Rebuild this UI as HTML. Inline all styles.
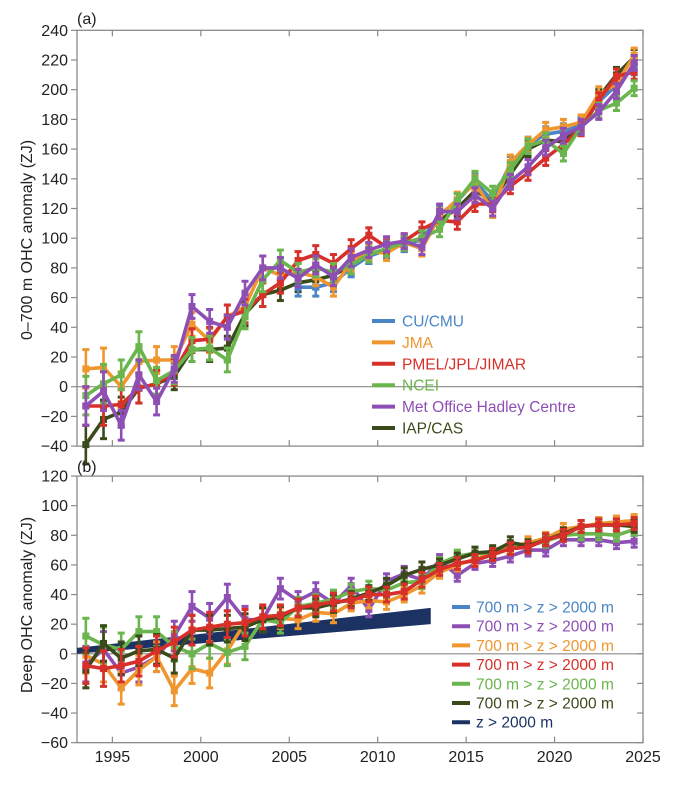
<!DOCTYPE html>
<html><head><meta charset="utf-8"><style>
body{margin:0;background:#fff;}
svg{display:block;font-family:"Liberation Sans",Arial,sans-serif;}
</style></head><body>
<svg id="chart" width="688" height="787" viewBox="0 0 688 787" xmlns="http://www.w3.org/2000/svg"></svg>
<script>
const years = [];
for (let y = 1993; y <= 2024; y++) years.push(y);
// Panel (a) 0-700 m OHC anomaly (ZJ)
const aIAP  = [-39,-22,-17,-1,2,7,25,25,26,49,62,65,70,72,75,82,88,92,96,100,112,120,132,125,143,160,166,165,176,195,210,222];
const aCU   = [null,null,null,null,null,null,null,null,null,null,null,null,67,67,70,80,88,92,96,99,116,125,138,125,150,163,170,172,176,192,203,215];
const aJMA  = [12,13,0,17,18,18,42,31,47,54,80,75,77,74,67,84,91,90,97,93,115,126,137,119,151,163,173,175,178,197,204,223];
const aPMEL = [-13,-13,-12,-1,2,10,31,32,47,51,62,70,85,89,83,93,102,94,98,106,112,111,123,123,135,144,154,163,174,193,209,212];
const aNCEI = [-6,2,8,27,4,11,25,26,18,47,72,85,77,80,77,82,89,93,97,100,106,125,140,130,146,162,166,157,175,186,191,201];
const aMET  = [-13,-3,-26,8,-10,12,54,44,40,63,80,80,73,82,74,87,92,96,98,94,118,118,129,120,138,148,161,169,175,185,199,218];
const aErr  = [13,13,10,10,9,9,8,8,8,8,8,7,6,6,6,6,5,5,5,5,5,5,5,5,5,5,5,5,5,5,5,5];
// Panel (b) deep OHC anomaly (ZJ)
const bCU   = [null,null,null,null,null,null,null,null,null,null,null,null,31,33,35,36,40,40,42,50,57,61,63,67,71,72,77,80,86,87,87,88];
const bMET  = [-7,3,-13,-9,-2,12,32,24,38,23,23,44,36,42,34,46,30,49,54,50,63,53,61,63,66,70,70,77,77,77,75,76];
const bJMA  = [-1,-7,-23,-11,-2,-25,-10,-13,2,21,23,24,23,28,27,34,36,35,40,46,55,60,64,68,72,75,78,84,86,88,89,90];
const bNCEI = [12,6,3,15,15,5,0,7,1,5,23,21,32,34,37,42,44,43,48,49,61,66,68,68,71,73,76,80,81,81,80,84];
const bIAP  = [-11,7,-3,2,3,-3,16,16,17,18,23,25,31,31,34,37,41,46,53,57,60,64,68,69,75,73,77,81,86,87,87,86];
const bPMEL = [-8,-10,-8,-5,2,8,16,18,20,21,25,26,31,33,35,36,40,40,42,50,57,61,63,67,71,72,77,80,86,87,87,88];
const bErr  = [12,12,11,10,10,10,10,10,9,9,8,7,6,6,6,5,5,5,5,5,4,4,4,4,4,4,4,4,4,4,4,4];
const bandYears = [1993, 2013];
const bandLow   = [0, 20];
const bandHigh  = [4, 31];
const xTicks = [1995, 2000, 2005, 2010, 2015, 2020, 2025];
const aTicks = [240,220,200,180,160,140,120,100,80,60,40,20,0,-20,-40];
const bTicks = [120,100,80,60,40,20,0,-20,-40,-60];

const C = {cu:'#4a86c5', jma:'#f0962e', pmel:'#d7302a', ncei:'#6ab54d', met:'#8e4fb5', iap:'#3b4a1a', navy:'#1b3262'};
const svg = document.getElementById('chart');
const NS = 'http://www.w3.org/2000/svg';
function el(tag, attrs, parent){ const e=document.createElementNS(NS,tag); for(const k in attrs) e.setAttribute(k,attrs[k]); (parent||svg).appendChild(e); return e; }

const X0 = 77, X1 = 643;
function xs(yr){ return X0 + (yr-1993)*(X1-X0)/32; }
function yA(v){ return 386.7 - v*1.485; }
function yB(v){ return 653.8 - v*1.481; }

function frame(name, top, bottom, ticks, yf){
  const g = el('g', {});
  
  
  el('rect', {x:X0, y:top, width:X1-X0, height:bottom-top, fill:'none', stroke:'#8a8a8a', 'stroke-width':1.3}, g);
  for (const t of ticks){
    const y = yf(t);
    el('line', {x1:X0-6, x2:X0, y1:y, y2:y, stroke:'#8a8a8a', 'stroke-width':1.2}, g);
    el('line', {x1:X1-6, x2:X1, y1:y, y2:y, stroke:'#8a8a8a', 'stroke-width':1.2}, g);
    const tx = el('text', {x:X0-9, y:y+5.5, 'text-anchor':'end', 'font-size':16, fill:'#222'}, g);
    tx.textContent = (t<0 ? '\u2212'+(-t) : t);
    
    
  }
  for (const t of xTicks){
    const x = xs(t);
    el('line', {x1:x, x2:x, y1:top, y2:top+6, stroke:'#8a8a8a', 'stroke-width':1.2}, g);
    el('line', {x1:x, x2:x, y1:bottom-6, y2:bottom, stroke:'#8a8a8a', 'stroke-width':1.2}, g);
  }
  el('line', {x1:X0, x2:X1, y1:yf(0), y2:yf(0), stroke:'#8a8a8a', 'stroke-width':1.2}, g);
}
frame('panel-a-axes', yA(240), yA(-40), aTicks, yA);
frame('panel-b-axes', yB(120), yB(-60), bTicks, yB);

function series(name, vals, errs, color, yf){
  const g = el('g', {});
  
  
  let d = '';
  vals.forEach((v,i)=>{ if (v===null) return; const x=xs(years[i]+0.5), y=yf(v); d += (d===''?'M':'L')+x.toFixed(1)+' '+y.toFixed(1)+' '; });
  el('path', {d:d, fill:'none', stroke:color, 'stroke-width':3.6, 'stroke-linejoin':'round'}, g);
  vals.forEach((v,i)=>{
    if (v===null) return;
    const x=xs(years[i]+0.5), e=errs[i];
    const y1=yf(v+e), y2=yf(v-e);
    el('line', {x1:x, x2:x, y1:y1, y2:y2, stroke:color, 'stroke-width':2.6}, g);
    el('line', {x1:x-3.5, x2:x+3.5, y1:y1, y2:y1, stroke:color, 'stroke-width':3}, g);
    el('line', {x1:x-3.5, x2:x+3.5, y1:y2, y2:y2, stroke:color, 'stroke-width':3}, g);
    const m = el('rect', {x:x-3.5, y:yf(v)-3.5, width:7, height:7, fill:color}, g);
    
    
  });
}
// panel a
series('iap-cas-a', aIAP, aErr, C.iap, yA);
series('cu-cmu-a', aCU, aErr, C.cu, yA);
series('jma-a', aJMA, aErr, C.jma, yA);
series('pmel-a', aPMEL, aErr, C.pmel, yA);
series('ncei-a', aNCEI, aErr, C.ncei, yA);
series('met-office-a', aMET, aErr, C.met, yA);
// panel b
const band = el('polygon', {points:
  xs(bandYears[0])+','+yB(bandLow[0])+' '+xs(bandYears[1])+','+yB(bandLow[1])+' '+xs(bandYears[1])+','+yB(bandHigh[1])+' '+xs(bandYears[0])+','+yB(bandHigh[0]),
  fill:C.navy});


series('cu-cmu-b', bCU, bErr, C.cu, yB);
series('met-office-b', bMET, bErr, C.met, yB);
series('jma-b', bJMA, bErr, C.jma, yB);
series('ncei-b', bNCEI, bErr, C.ncei, yB);
series('iap-cas-b', bIAP, bErr, C.iap, yB);
series('pmel-b', bPMEL, bErr, C.pmel, yB);

// x tick labels
for (const t of xTicks){
  const tx = el('text', {x:xs(t), y:762, 'text-anchor':'middle', 'font-size':16, fill:'#222'});
  tx.textContent = t;
  
  
}
function label(txt, x, y, size, name, rot){
  const t = el('text', {x:x, y:y, 'font-size':size, fill:'#222', 'text-anchor': rot?'middle':'start'});
  if (rot) t.setAttribute('transform', 'rotate(-90 '+x+' '+y+')');
  t.textContent = txt;
  
  
}
label('(a)', 77, 24, 16, 'panel-a-label');
label('(b)', 77, 472, 16, 'panel-b-label');
label('0\u2013700 m OHC anomaly (ZJ)', 32, 240, 16, 'y-axis-title-a', true);
label('Deep OHC anomaly (ZJ)', 32, 605, 16, 'y-axis-title-b', true);

// legends
const legANames = ['CU/CMU','JMA','PMEL/JPL/JIMAR','NCEI','Met Office Hadley Centre','IAP/CAS'];
const legAColors = [C.cu, C.jma, C.pmel, C.ncei, C.met, C.iap];
legANames.forEach((n,i)=>{
  const y = 321 + i*21.4;
  const g = el('g', {});
  
  
  el('line', {x1:372, x2:395, y1:y, y2:y, stroke:legAColors[i], 'stroke-width':4}, g);
  const t = el('text', {x:402, y:y+5.5, 'font-size':15.5, fill:legAColors[i]}, g);
  t.textContent = n;
});
const legBNames = ['700 m > z > 2000 m','700 m > z > 2000 m','700 m > z > 2000 m','700 m > z > 2000 m','700 m > z > 2000 m','700 m > z > 2000 m','z > 2000 m'];
const legBColors = [C.cu, C.met, C.jma, C.pmel, C.ncei, C.iap, C.navy];
legBNames.forEach((n,i)=>{
  const y = 607 + i*19.2;
  const g = el('g', {});
  
  
  el('line', {x1:452, x2:470, y1:y, y2:y, stroke:legBColors[i], 'stroke-width':4}, g);
  const t = el('text', {x:476, y:y+5.5, 'font-size':15.5, fill:legBColors[i]}, g);
  t.textContent = n;
});
</script>
</body></html>
